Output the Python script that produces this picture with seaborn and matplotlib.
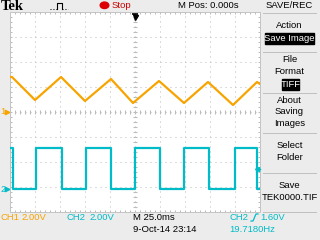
import numpy as np
import pandas as pd
import matplotlib
matplotlib.use("Agg")
import matplotlib.pyplot as plt
import seaborn as sns
from matplotlib.lines import Line2D
from matplotlib.patches import Rectangle, Circle

# ---------------- data ----------------
ch1_time_ms = [-125, -123, -100, -74, -50, -24, -2, 24, 49, 73, 98, 122, 125]
ch1_volts = [2.80, 2.80, 0.96, 2.80, 0.88, 2.64, 0.72, 2.48, 0.72, 2.40, 0.56, 2.40, 2.24]

ch2_edge_ms = [-125, -121.7, -99.3, -72.7, -49.3, -24.0, 0.3, 24.7, 49.3, 73.7, 99.7, 121.5, 125]
ch2_level_volts = [3.3, 0.0, 3.3, 0.0, 3.3, 0.0, 3.3, 0.0, 3.3, 0.0, 3.3, 0.0, 0.0]

ch1_volts_per_div = 2.0
ch2_volts_per_div = 2.0
ch1_position_div = 0.0
ch2_position_div = -3.08
trigger_level_v = 1.60
time_per_div_ms = 25.0

menu_title = "SAVE/REC"
menu_lines = [("Action", 26), ("File", 60), ("Format", 72), ("About", 100),
              ("Saving", 112), ("Images", 124), ("Select", 146), ("Folder", 158),
              ("Save", 186), ("TEK0000.TIF", 198)]
status_texts = {"mpos": "M Pos: 0.000s", "stop": "Stop", "ch1": "CH1", "ch1v": "2.00V",
                "ch2": "CH2", "ch2v": "2.00V", "tb": "M 25.0ms", "date": "9-Oct-14 23:14",
                "trig": "CH2", "trigv": "1.60V", "freq": "19.7180Hz"}

# ---------------- style ----------------
plt.rcParams["lines.scale_dashes"] = False
FONT = ["Liberation Sans", "DejaVu Sans"]
plt.rcParams["font.family"] = FONT
BG = "#ececec"
GRID = "#bcbcbc"
ORANGE = "#f7a400"
CYAN = "#00bcc8"
FS = 6.8

W, H = 320, 240
fig = plt.figure(figsize=(3.2, 2.4), dpi=100, facecolor=BG)


def fx(x):
    return x / W


def fy(y):
    return 1 - y / H


ax = fig.add_axes([fx(10), fy(212), 250 / W, 200 / H])
ax.set_facecolor("white")

# ---------------- waveforms ----------------
df1 = pd.DataFrame({"t": ch1_time_ms,
                    "div": np.array(ch1_volts) / ch1_volts_per_div + ch1_position_div})
sq_t, sq_v = [], []
for i in range(len(ch2_edge_ms) - 1):
    sq_t += [ch2_edge_ms[i], ch2_edge_ms[i + 1]]
    sq_v += [ch2_level_volts[i], ch2_level_volts[i]]
df2 = pd.DataFrame({"t": sq_t,
                    "div": np.array(sq_v) / ch2_volts_per_div + ch2_position_div})

sns.lineplot(data=df1, x="t", y="div", ax=ax, color=ORANGE, lw=1.6,
             sort=False, estimator=None, zorder=5)
sns.lineplot(data=df2, x="t", y="div", ax=ax, color=CYAN, lw=1.6,
             sort=False, estimator=None, zorder=5)

xmin, xmax = -5 * time_per_div_ms, 5 * time_per_div_ms
ax.set_xlim(xmin, xmax)
ax.set_ylim(-4, 4)
ax.set_xlabel("")
ax.set_ylabel("")

# graticule
ax.set_xticks(np.arange(xmin, xmax + 1, time_per_div_ms))
ax.set_yticks(np.arange(-4, 5, 1))
ax.set_xticks(np.arange(xmin, xmax + 1, time_per_div_ms / 5), minor=True)
ax.set_yticks(np.arange(-4, 4.01, 0.2), minor=True)
ax.set_xticklabels([])
ax.set_yticklabels([])
ax.tick_params(which="both", direction="in", length=1.6, width=0.72, color=GRID,
               top=True, right=True, bottom=True, left=True)
ax.grid(True, which="major", color=GRID, lw=0.72, ls=(0, (0.72, 2.88)), zorder=1)
for s in ax.spines.values():
    s.set_color("#c4c4c4")
    s.set_linewidth(0.72)

# centre cross tick marks
cx = np.arange(xmin, xmax + 0.1, time_per_div_ms / 5)
ax.plot(cx, np.zeros_like(cx), ls="none", marker="|", ms=2.6, mew=0.8, color=GRID, zorder=2)
cy = np.arange(-4, 4.01, 0.2)
ax.plot(np.zeros_like(cy), cy, ls="none", marker="_", ms=2.6, mew=0.8, color=GRID, zorder=2)

# trigger position marker (top) and trigger level marker (right)
ax.plot([0], [3.94], marker="_", ms=5, mew=1.2, color="black", clip_on=False, zorder=6)
ax.plot([0], [3.82], marker="v", ms=3.6, color="black", clip_on=False, zorder=6)
trig_div = trigger_level_v / ch2_volts_per_div + ch2_position_div
ax.plot([121.5, 125], [trig_div, trig_div], color=CYAN, lw=1.0, clip_on=False, zorder=6)
ax.plot([122], [trig_div], marker="<", ms=3, color=CYAN, clip_on=False, zorder=6)

# ground markers
ax.plot([-127.6], [ch1_position_div], marker=">", ms=3.2, color=ORANGE, clip_on=False)
ax.plot([-129.5, -127], [ch1_position_div] * 2, color=ORANGE, lw=1.0, clip_on=False)
ax.plot([-127.6], [ch2_position_div], marker=">", ms=3.2, color=CYAN, clip_on=False)
ax.plot([-129.5, -127], [ch2_position_div] * 2, color=CYAN, lw=1.0, clip_on=False)
fig.text(fx(3), fy(112), "1", color=ORANGE, fontsize=FS, ha="center", va="center")
fig.text(fx(3), fy(189), "2", color=CYAN, fontsize=FS, ha="center", va="center")

# ---------------- header ----------------
fig.text(fx(1), fy(6), "Tek", fontsize=10.5, fontweight="bold",
         family=["Liberation Serif", "DejaVu Serif"], ha="left", va="center")
icon_x = [50, 57.3, 57.3, 61.7, 61.7, 68]
icon_y = [8.7, 8.7, 2.7, 2.7, 8.7, 8.7]
fig.add_artist(Line2D([fx(v) for v in icon_x[:2]], [fy(v) for v in icon_y[:2]],
                      color="black", lw=0.7, ls=(0, (0.72, 1.4))))
fig.add_artist(Line2D([fx(v) for v in icon_x[1:5]], [fy(v) for v in icon_y[1:5]],
                      color="black", lw=0.8))
fig.add_artist(Line2D([fx(v) for v in icon_x[4:]], [fy(v) for v in icon_y[4:]],
                      color="black", lw=0.7, ls=(0, (0.72, 1.4))))
fig.add_artist(Circle((fx(104.5), fy(5.3)), radius=4.3 / W, color="#dd0000",
                      transform=fig.transFigure))
fig.text(fx(112), fy(6), status_texts["stop"], color="#cc0000", fontsize=FS,
         ha="left", va="center")
fig.text(fx(178), fy(6), status_texts["mpos"], fontsize=FS, ha="left", va="center")

# ---------------- side menu ----------------
MX = 289.5
fig.text(fx(MX), fy(6), menu_title, fontsize=FS, ha="center", va="center")
for yl in [12.5, 51.5, 92.5, 132.5, 172.5, 211.5]:
    fig.add_artist(Line2D([fx(263), fx(316)], [fy(yl), fy(yl)], color="#c0c0c0", lw=0.72))
for txt, yy in menu_lines:
    fig.text(fx(MX), fy(yy), txt, fontsize=FS, ha="center", va="center")
fig.add_artist(Rectangle((fx(265), fy(43.5)), 49 / W, 10.5 / H, color="black",
                         transform=fig.transFigure))
fig.text(fx(MX), fy(38.3), "Save Image", color="white", fontsize=FS, ha="center", va="center")
fig.add_artist(Rectangle((fx(282), fy(89.5)), 17 / W, 10.5 / H, color="black",
                         transform=fig.transFigure))
fig.text(fx(290.5), fy(84.3), "TIFF", color="white", fontsize=FS, ha="center", va="center")

# ---------------- status bar ----------------
fig.text(fx(0.5), fy(217.5), status_texts["ch1"], color=ORANGE, fontsize=FS, ha="left", va="center")
fig.text(fx(21.5), fy(217.5), status_texts["ch1v"], color=ORANGE, fontsize=FS, ha="left", va="center")
fig.text(fx(66.5), fy(217.5), status_texts["ch2"], color=CYAN, fontsize=FS, ha="left", va="center")
fig.text(fx(89), fy(217.5), status_texts["ch2v"], color=CYAN, fontsize=FS, ha="left", va="center")
fig.text(fx(133), fy(217.5), status_texts["tb"], fontsize=FS, ha="left", va="center")
fig.text(fx(133), fy(229.5), status_texts["date"], fontsize=FS, ha="left", va="center")
fig.text(fx(229), fy(217.5), status_texts["trig"], color=CYAN, fontsize=FS, ha="left", va="center")
fig.add_artist(Line2D([fx(251), fx(253), fx(256), fx(258)],
                      [fy(221), fy(221), fy(214), fy(214)], color=CYAN, lw=0.9))
fig.text(fx(260.5), fy(217.5), status_texts["trigv"], color=CYAN, fontsize=FS, ha="left", va="center")
fig.text(fx(229), fy(229.5), status_texts["freq"], color=CYAN, fontsize=FS, ha="left", va="center")

fig.savefig("out.png", dpi=100, facecolor=BG)
